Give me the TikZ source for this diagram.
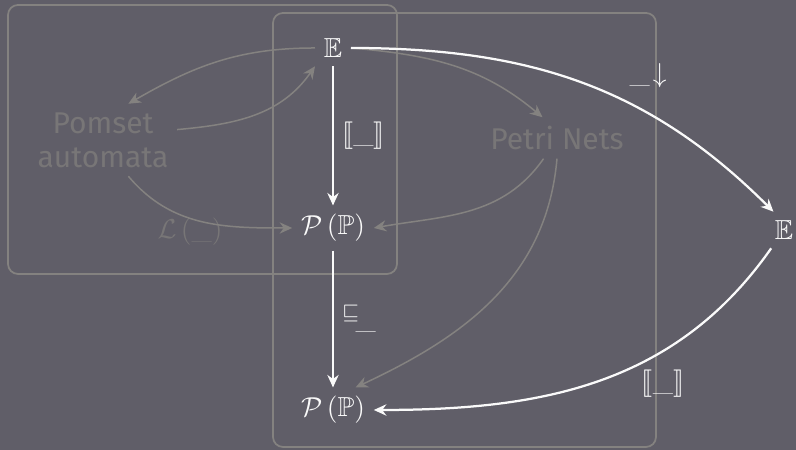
\documentclass[tikz,border=0pt]{standalone}
\usepackage{amsmath,amssymb}
\usepackage{stmaryrd}
\usepackage{xcolor}
\usepackage{fontspec}
\setsansfont{Fira Sans}
\usepackage{tikz}
\usetikzlibrary{arrows.meta}

\definecolor{board}{RGB}{96,94,104}
\definecolor{chalk}{RGB}{250,250,250}
\definecolor{dim}{RGB}{132,130,128}
\definecolor{dimtext}{RGB}{120,118,119}

\begin{document}
\begin{tikzpicture}[x=0.4pt, y=0.4pt, >={Stealth[length=5pt,width=4.5pt]},
  frame/.style={draw=dim, line width=0.7pt, rounded corners=4pt},
  main/.style={->, draw=chalk, line width=0.9pt},
  faint/.style={->, draw=dim, line width=0.6pt},
  obj/.style={text=chalk, font=\fontsize{11}{13}\selectfont},
  lang/.style={text=dimtext, font=\sffamily\fontsize{12}{13.5}\selectfont, align=center}]
\fill[board] (0,0) rectangle (796,450);
\useasboundingbox (0,0) rectangle (796,450);

\draw[frame] (8,176) rectangle (397,445);
\draw[frame] (273,3) rectangle (656,437);

\node[obj] (top) at (333,402) {$\mathbb{E}$};
\node[obj] (mid) at (333,222) {$\mathcal{P}\,(\mathbb{P})$};
\node[obj] (bot) at (333,40) {$\mathcal{P}\,(\mathbb{P})$};
\node[obj] (far) at (784,220) {$\mathbb{E}$};
\node[lang] (pom) at (103,310) {Pomset\\automata};
\node[lang] (petri) at (557,312) {Petri Nets};
\node[obj, text=dimtext] (lang) at (190,218) {$\mathcal{L}\,(\_)$};
\node[obj] (flat) at (648,374) {$\_\!\downarrow$};
\node[obj] (semr) at (663,66) {$\llbracket\_\rrbracket$};

\draw[faint] (top.west) to[out=180,in=30] (pom.55);
\draw[faint] (pom.8) to[out=5,in=235] (top.south west);
\draw[faint] (pom.-55) to[out=-50,in=180] (mid.west);
\draw[faint] (top.east) to[out=-5,in=140] (petri.125);
\draw[faint] (petri.237) to[out=235,in=10] (mid.east);
\draw[faint] (petri.south) to[out=265,in=25] (bot.45);

\draw[main] (top) -- node[obj, right=0pt] {$\llbracket\_\rrbracket$} (mid);
\draw[main] (mid) -- node[obj, right=0pt] {${}^{\sqsubseteq}\!\_$} (bot);
\draw[main] (top.east) to[out=0,in=135] (far.120);
\draw[main] (far.235) to[out=235,in=0] (bot.east);
\end{tikzpicture}
\end{document}
